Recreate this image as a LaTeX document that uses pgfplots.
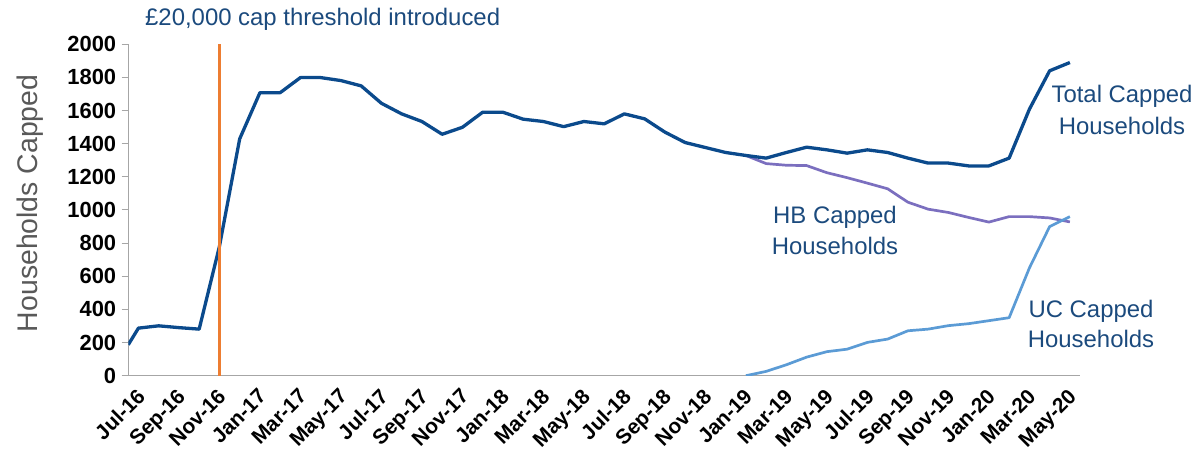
\documentclass[border=0pt]{standalone}
\usepackage{pgfplots}
\pgfplotsset{compat=1.18}
\usepackage{fontspec}
\setmainfont{Liberation Sans}
\definecolor{totc}{HTML}{0B4A8C}
\definecolor{hbc}{HTML}{7B6FBF}
\definecolor{ucc}{HTML}{5B9BD5}
\definecolor{orc}{HTML}{ED7D31}
\definecolor{txtc}{HTML}{1B4A7D}
\definecolor{axc}{HTML}{A6A6A6}
\definecolor{ylc}{HTML}{595959}
\begin{document}
\begin{tikzpicture}[x=1bp,y=1bp]
\path (0,0) rectangle (1196,454);
\begin{axis}[
  at={(128.3bp,78.3bp)}, anchor=south west,
  scale only axis, width=951.7bp, height=331.4bp,
  xmin=-0.5, xmax=46.5, ymin=0, ymax=2000,
  axis x line*=bottom, axis y line*=left,
  axis line style={draw=axc, line width=1bp, -},
  ytick={0,200,...,2000},
  ytick pos=left, tick align=outside, major tick length=6.6bp,
  ytick style={draw=axc, line width=1bp},
  xtick={0,2,...,46},
  xticklabels={Jul-16,Sep-16,Nov-16,Jan-17,Mar-17,May-17,Jul-17,Sep-17,Nov-17,Jan-18,Mar-18,May-18,Jul-18,Sep-18,Nov-18,Jan-19,Mar-19,May-19,Jul-19,Sep-19,Nov-19,Jan-20,Mar-20,May-20},
  xtick style={draw=none},
  xticklabel style={rotate=45, anchor=north east, inner sep=1.5bp, xshift=-4bp, font=\fontsize{21}{21}\selectfont\bfseries},
  yticklabel style={font=\fontsize{22}{22}\selectfont\bfseries, xshift=-2bp},
  /pgf/number format/assume math mode=true,
  /pgf/number format/1000 sep={},
  ylabel={Households Capped},
  ylabel style={at={(axis description cs:-0.103,0.52)}, anchor=center, font=\fontsize{28.5}{30}\selectfont, color=ylc},
  clip=true,
]
% HB capped households
\addplot[hbc, line width=2.7bp, line join=round] coordinates {
(30,1329) (31,1280) (32,1270) (33,1268) (34,1225) (35,1195) (36,1162) (37,1128)
(38,1047) (39,1005) (40,985) (41,955) (42,927) (43,960) (44,960) (45,952) (46,928)};
% UC capped households
\addplot[ucc, line width=2.7bp, line join=round] coordinates {
(30,0) (31,26) (32,66) (33,112) (34,145) (35,160) (36,201) (37,221)
(38,271) (39,281) (40,302) (41,314) (42,332) (43,350) (44,650) (45,900) (46,960)};
% Total capped households
\addplot[totc, line width=3.3bp, line join=round] coordinates {
(-0.5,187) (0,287) (1,301) (2,290) (3,281) (4,780) (5,1429) (6,1708) (7,1708)
(8,1799) (9,1799) (10,1781) (11,1749) (12,1644) (13,1580) (14,1534) (15,1457)
(16,1499) (17,1590) (18,1590) (19,1548) (20,1534) (21,1503) (22,1534) (23,1520)
(24,1580) (25,1550) (26,1470) (27,1407) (28,1377) (29,1347) (30,1329) (31,1313)
(32,1347) (33,1379) (34,1363) (35,1343) (36,1363) (37,1347) (38,1313) (39,1283)
(40,1283) (41,1266) (42,1266) (43,1313) (44,1608) (45,1840) (46,1890)};
% threshold introduced
\addplot[orc, line width=3.3bp] coordinates {(4,0) (4,2000)};
\end{axis}
\node[anchor=base west, inner sep=0, text=txtc, font=\fontsize{24}{24}\selectfont] at (145,428) {£20,000 cap threshold introduced};
\node[anchor=base, inner sep=0, text=txtc, font=\fontsize{24}{24}\selectfont] at (1122,351) {Total Capped};
\node[anchor=base, inner sep=0, text=txtc, font=\fontsize{24}{24}\selectfont] at (1122,319) {Households};
\node[anchor=base, inner sep=0, text=txtc, font=\fontsize{24}{24}\selectfont] at (835,230) {HB Capped};
\node[anchor=base, inner sep=0, text=txtc, font=\fontsize{24}{24}\selectfont] at (835,199) {Households};
\node[anchor=base, inner sep=0, text=txtc, font=\fontsize{24}{24}\selectfont] at (1091,136) {UC Capped};
\node[anchor=base, inner sep=0, text=txtc, font=\fontsize{24}{24}\selectfont] at (1091,106) {Households};
\end{tikzpicture}
\end{document}
